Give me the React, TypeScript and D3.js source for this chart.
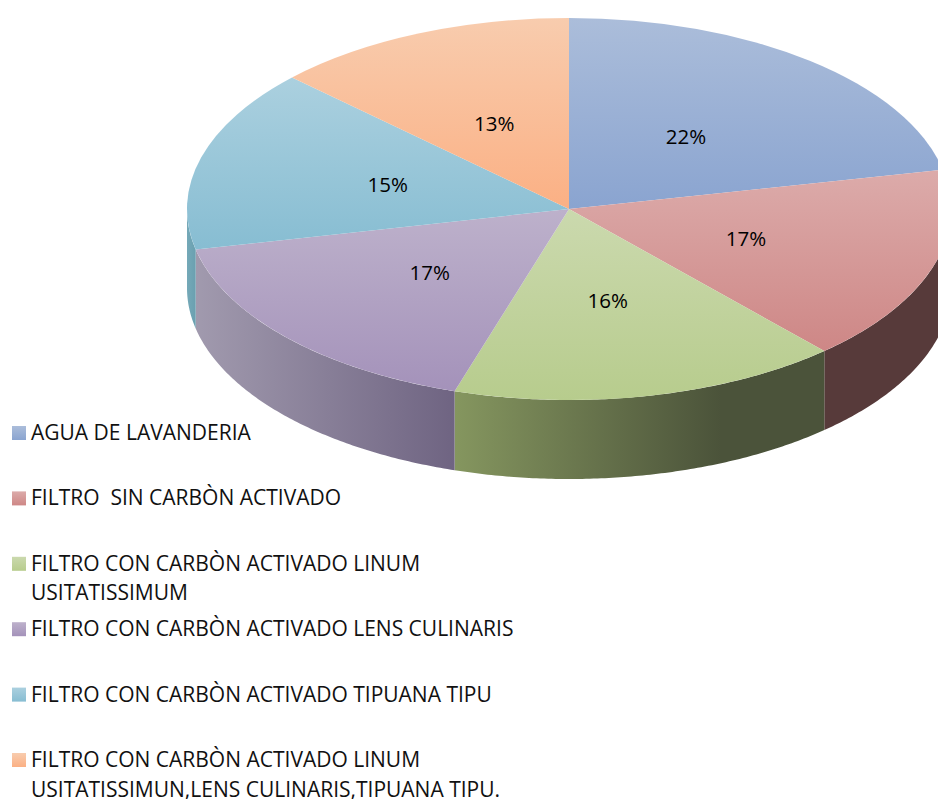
import React from "react";
import * as d3 from "d3";

const categories = [
  ["AGUA DE LAVANDERIA"],
  ["FILTRO  SIN CARBÒN ACTIVADO"],
  ["FILTRO CON CARBÒN ACTIVADO LINUM", "USITATISSIMUM"],
  ["FILTRO CON CARBÒN ACTIVADO LENS CULINARIS"],
  ["FILTRO CON CARBÒN ACTIVADO TIPUANA TIPU"],
  ["FILTRO CON CARBÒN ACTIVADO LINUM", "USITATISSIMUN,LENS CULINARIS,TIPUANA TIPU."],
];
const values = [21.7, 16.65, 16.49, 16.76, 15.49, 12.91];
const topLight = ["#abbdda", "#dcabaa", "#cbd9ae", "#bdb1cb", "#abd0df", "#f8ccae"];
const topDark = ["#8aa4d0", "#ce8786", "#b7cc8d", "#a492ba", "#87bdd2", "#fbb084"];
const sideLight = ["#6f7f9c", "#573a3a", "#85965f", "#a19aae", "#75a9b8", "#b8855f"];
const sideDark = ["#56688a", "#573a3a", "#4b533a", "#6f6482", "#6aa0b0", "#9c6d4c"];

const W = 938, H = 799;
const cx = 569, cy = 209, rx = 382, ry = 191, depth = 79;
const FONT = "'Open Sans', sans-serif";
const legendX = 31, swatchX = 12, swatch = 14, legendTop = 440, legendStep = 65.4, lineStep = 29.5;

const pie = d3.pie<number>().sort(null).startAngle(0).endAngle(2 * Math.PI);
const arcs = pie(values);
const topArc = d3.arc<d3.PieArcDatum<number>>().innerRadius(0).outerRadius(rx);
const labelR = 0.49 * rx;
const percent = d3.format(".0f");

const wall = d3
  .area<number>()
  .x((a) => cx + rx * Math.sin(a))
  .y0((a) => cy - ry * Math.cos(a))
  .y1((a) => cy - ry * Math.cos(a) + depth);

function wallPath(a0: number, a1: number) {
  const lo = Math.max(a0, Math.PI / 2);
  const hi = Math.min(a1, (3 * Math.PI) / 2);
  if (hi <= lo) return null;
  const n = Math.ceil((hi - lo) / 0.01);
  return wall(d3.range(n + 1).map((i) => lo + ((hi - lo) * i) / n));
}

export default function App() {
  return (
    <svg
      width={W}
      height={H}
      viewBox={`0 0 ${W} ${H}`}
      style={{ position: "absolute", left: 0, top: 0, background: "#fff" }}
    >
      <defs>
        {values.map((_, i) => (
          <React.Fragment key={i}>
            <linearGradient id={`top${i}`} x1="0" y1="0" x2="0" y2="1">
              <stop offset="0" stopColor={topLight[i]} />
              <stop offset="1" stopColor={topDark[i]} />
            </linearGradient>
            <linearGradient id={`side${i}`} x1="0" y1="0" x2="1" y2="0">
              <stop offset="0" stopColor={sideLight[i]} />
              <stop offset={i === 2 ? "0.72" : "1"} stopColor={sideDark[i]} />
              <stop offset="1" stopColor={sideDark[i]} />
            </linearGradient>
          </React.Fragment>
        ))}
      </defs>
      {arcs.map((d, i) => {
        const p = wallPath(d.startAngle, d.endAngle);
        return p ? <path key={i} d={p} fill={`url(#side${i})`} /> : null;
      })}
      <g transform={`translate(${cx},${cy}) scale(1,${ry / rx})`}>
        {arcs.map((d, i) => (
          <path key={i} d={topArc(d) as string} fill={`url(#top${i})`} />
        ))}
      </g>
      {arcs.map((d, i) => {
        const mid = (d.startAngle + d.endAngle) / 2;
        return (
          <text
            key={i}
            x={cx + labelR * Math.sin(mid) - 1}
            y={cy - (labelR * ry * Math.cos(mid)) / rx + 8}
            textAnchor="middle"
            fontFamily={FONT}
            fontSize={20.5}
            fill="#000"
          >
            {percent(d.value)}%
          </text>
        );
      })}
      {categories.map((lines, i) => {
        const y = legendTop + i * legendStep;
        return (
          <g key={i}>
            <rect x={swatchX} y={y - swatch} width={swatch} height={swatch} fill={`url(#top${i})`} />
            {lines.map((t, j) => (
              <text
                key={j}
                x={legendX}
                y={y + j * lineStep}
                fontFamily={FONT}
                fontSize={21}
                fill="#111"
                style={{ whiteSpace: "pre" }}
              >
                {t}
              </text>
            ))}
          </g>
        );
      })}
    </svg>
  );
}
